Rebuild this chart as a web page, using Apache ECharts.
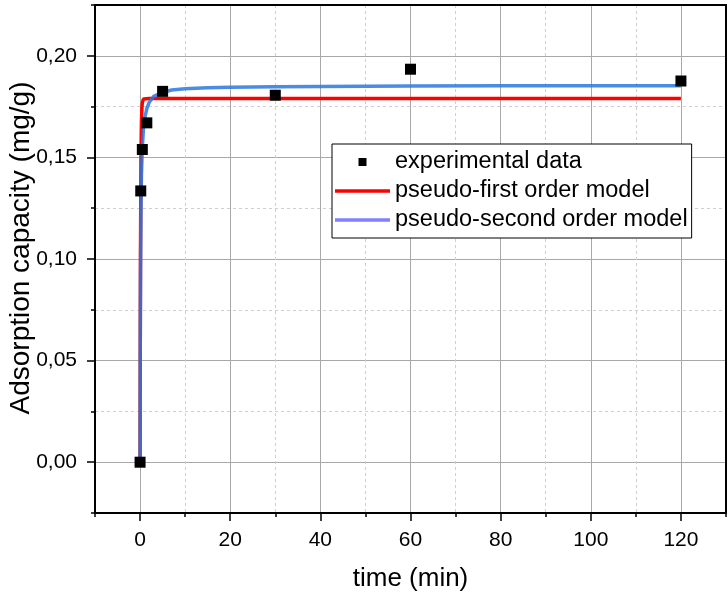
<!DOCTYPE html>
<html>
<head>
<meta charset="utf-8">
<script src="https://cdn.jsdelivr.net/npm/echarts@6/dist/echarts.min.js"></script>
<style>
  html, body { margin: 0; padding: 0; background: #ffffff; }
  #chart { width: 728px; height: 595px; }
</style>
</head>
<body>
<div id="chart"></div>
<script>
// Measured adsorption capacity over contact time
const expTime = [0, 0.15, 0.5, 1.5, 5, 30, 60, 120];
const expQ    = [0, 0.1335, 0.1539, 0.1670, 0.1825, 0.1806, 0.1934, 0.1876];

// Pseudo-first order model curve
const pfoTime = [0, 0.05, 0.1, 0.2, 0.3, 0.4, 0.5, 0.75, 1, 2, 5, 10, 30, 60, 90, 120];
const pfoQ    = [0, 0.064, 0.105, 0.150, 0.167, 0.174, 0.177, 0.1787, 0.179, 0.179, 0.179, 0.179, 0.179, 0.179, 0.179, 0.179];

// Pseudo-second order model curve
const psoTime = [0, 0.05, 0.1, 0.2, 0.3, 0.5, 0.75, 1, 1.5, 2, 3, 4, 5, 7, 10, 15, 20, 30, 40, 60, 80, 100, 120];
const psoQ    = [0, 0.062, 0.094, 0.125, 0.141, 0.155, 0.164, 0.169, 0.174, 0.177, 0.180, 0.181, 0.182, 0.1832, 0.1838, 0.1843, 0.1845, 0.1848, 0.1849, 0.1851, 0.1852, 0.1852, 0.1853];

// Axis tick labels
const xTickValues = [0, 20, 40, 60, 80, 100, 120];
const xTickLabels = ['0', '20', '40', '60', '80', '100', '120'];
const yTickValues = [0, 0.05, 0.10, 0.15, 0.20];
const yTickLabels = ['0,00', '0,05', '0,10', '0,15', '0,20'];

const FONT = "'Liberation Sans', Arial, sans-serif";
const X_RANGE = { min: -10, max: 130, interval: 10 };
const Y_RANGE = { min: -0.025, max: 0.225, interval: 0.025 };
const CLEAR = 'rgba(0,0,0,0)';
const SQUARE_ICON = 'path://M0,0H10V10H0Z';
const LINE_ICON = 'path://M0,0H55V3.5H0Z';

function labelFor(values, labels) {
  return function (v) {
    for (let i = 0; i < values.length; i++) {
      if (Math.abs(v - values[i]) < 1e-7) return labels[i];
    }
    return '';
  };
}

function zip(a, b) { return a.map((v, i) => [v, b[i]]); }

// Grid-line axes (solid for major steps, dashed for the half steps)
function gridAxis(range, colors, dashed) {
  return Object.assign({
    type: 'value', z: 0,
    axisLine: { show: false, onZero: false },
    axisTick: { show: false },
    axisLabel: { show: false },
    splitLine: { show: true, lineStyle: { color: colors, width: 1, type: dashed ? [3, 3] : 'solid' } }
  }, range);
}

// Axis carrying only a line (box frame) or only long ticks
function plainAxis(range, position, extra) {
  return Object.assign({
    type: 'value', position: position, z: 10,
    axisLine: { show: false, onZero: false },
    axisTick: { show: false },
    axisLabel: { show: false },
    splitLine: { show: false }
  }, range, extra);
}

const chart = echarts.init(document.getElementById('chart'), null, { renderer: 'canvas' });

chart.setOption({
  animation: false,
  backgroundColor: '#ffffff',
  textStyle: { fontFamily: FONT },
  grid: { left: 95, top: 5, width: 631, height: 508, containLabel: false, outerBoundsMode: 'none' },
  xAxis: [
    gridAxis(X_RANGE, [CLEAR, '#a8a8a8'], false),
    gridAxis(X_RANGE, ['#cfcfcf', CLEAR], true),
    Object.assign({
      type: 'value', position: 'bottom', z: 10,
      axisLine: { show: true, onZero: false, lineStyle: { color: '#000', width: 2 } },
      axisTick: { show: true, length: 4, lineStyle: { color: '#000', width: 1.5 } },
      axisLabel: { show: true, margin: 17, fontSize: 21, color: '#000', fontFamily: FONT,
                   formatter: labelFor(xTickValues, xTickLabels) },
      splitLine: { show: false },
      name: 'time (min)', nameLocation: 'middle', nameGap: 53, nameMoveOverlap: false,
      nameTextStyle: { fontSize: 26, color: '#000', fontFamily: FONT }
    }, X_RANGE),
    plainAxis(X_RANGE, 'bottom', {
      axisTick: { show: true, length: 8, customValues: xTickValues, lineStyle: { color: '#000', width: 1.5 } }
    }),
    plainAxis(X_RANGE, 'top', {
      axisLine: { show: true, onZero: false, lineStyle: { color: '#000', width: 2 } }
    })
  ],
  yAxis: [
    gridAxis(Y_RANGE, [CLEAR, '#a8a8a8'], false),
    gridAxis(Y_RANGE, ['#cfcfcf', CLEAR], true),
    Object.assign({
      type: 'value', position: 'left', z: 10,
      axisLine: { show: true, onZero: false, lineStyle: { color: '#000', width: 2 } },
      axisTick: { show: true, length: 4, lineStyle: { color: '#000', width: 1.5 } },
      axisLabel: { show: true, margin: 18, fontSize: 21, color: '#000', fontFamily: FONT,
                   formatter: labelFor(yTickValues, yTickLabels) },
      splitLine: { show: false },
      name: 'Adsorption capacity (mg/g)', nameLocation: 'middle', nameGap: 60, nameMoveOverlap: false,
      nameTextStyle: { fontSize: 28, color: '#000', fontFamily: FONT, padding: [0, 0, 0, 22] }
    }, Y_RANGE),
    plainAxis(Y_RANGE, 'left', {
      axisTick: { show: true, length: 8, customValues: yTickValues, lineStyle: { color: '#000', width: 1.5 } }
    }),
    plainAxis(Y_RANGE, 'right', {
      axisLine: { show: true, onZero: false, lineStyle: { color: '#000', width: 2 } }
    })
  ],
  legend: {
    orient: 'vertical', left: 332, top: 144,
    padding: [6, 4, 6, 3], itemGap: 5, itemWidth: 55, itemHeight: 8,
    backgroundColor: '#ffffff', borderColor: '#000000', borderWidth: 1, borderRadius: 0,
    textStyle: { fontSize: 23.5, color: '#000', fontFamily: FONT },
    selectedMode: false,
    data: [
      { name: 'experimental data', icon: SQUARE_ICON },
      { name: 'pseudo-first order model', icon: LINE_ICON, itemStyle: { color: '#ff0000' } },
      { name: 'pseudo-second order model', icon: LINE_ICON, itemStyle: { color: '#8080ff' } }
    ]
  },
  series: [
    {
      name: 'pseudo-first order model', type: 'line', xAxisIndex: 2, yAxisIndex: 2,
      data: zip(pfoTime, pfoQ), symbol: 'none', smooth: false, z: 2,
      lineStyle: { color: '#ff0000', width: 3.5 }, itemStyle: { color: '#ff0000' }
    },
    {
      name: 'pseudo-second order model', type: 'line', xAxisIndex: 2, yAxisIndex: 2,
      data: zip(psoTime, psoQ), symbol: 'none', smooth: false, z: 3,
      lineStyle: { color: '#2a78dc', width: 3.5, opacity: 0.85 }, itemStyle: { color: '#2a78dc' }
    },
    {
      name: 'experimental data', type: 'scatter', xAxisIndex: 2, yAxisIndex: 2,
      data: zip(expTime, expQ), symbol: 'rect', symbolSize: 11, z: 4,
      itemStyle: { color: '#000000', opacity: 1 }
    }
  ]
});
</script>
</body>
</html>
